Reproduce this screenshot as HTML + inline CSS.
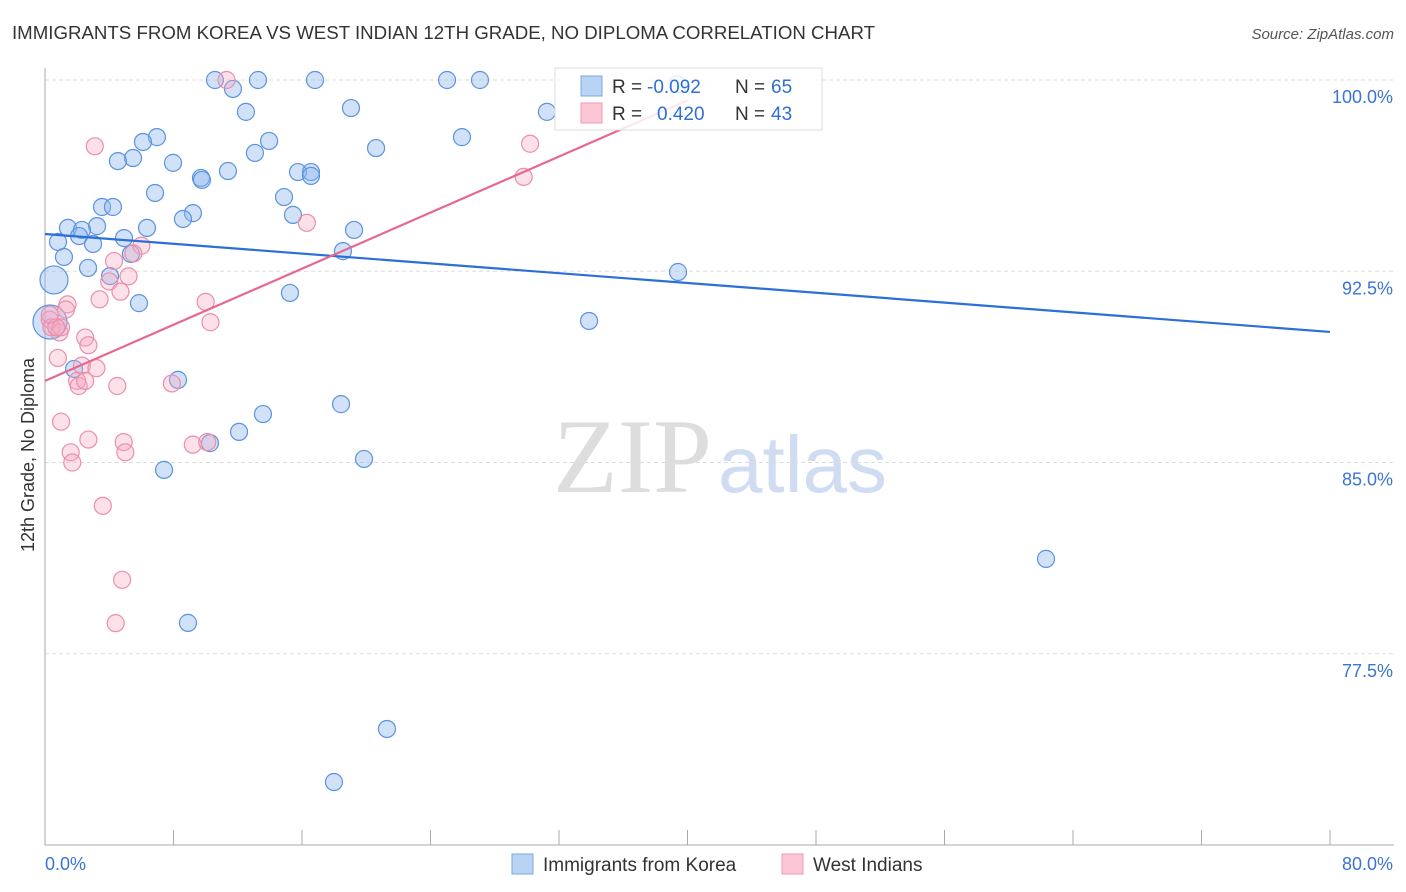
<!DOCTYPE html>
<html><head><meta charset="utf-8"><style>
body{margin:0;background:#fff;font-family:"Liberation Sans",sans-serif}
svg{display:block}
</style></head><body>
<svg id="c" width="1406" height="892" xmlns="http://www.w3.org/2000/svg">
<text x="12" y="39" font-size="18" fill="#333" textLength="863" lengthAdjust="spacingAndGlyphs">IMMIGRANTS FROM KOREA VS WEST INDIAN 12TH GRADE, NO DIPLOMA CORRELATION CHART</text>
<text x="1394" y="39" font-size="15" fill="#555" font-style="italic" text-anchor="end">Source: ZipAtlas.com</text>
<text x="34" y="455" font-size="18" fill="#333" text-anchor="middle" transform="rotate(-90 34 455)">12th Grade, No Diploma</text>
<text x="553" y="492" font-size="106" fill="#ddd" font-family="Liberation Serif,serif">ZIP</text>
<text x="718" y="492" font-size="80" fill="#cfdcf2">atlas</text>
<g id="grid"></g><g id="pts"></g><g id="lines"></g>
<g>
<rect x="555" y="68" width="267" height="62" fill="#fff" fill-opacity="0.85" stroke="#ddd"/>
<rect x="581" y="76" width="21" height="20" fill="#b9d3f5" stroke="#7aa7e6"/>
<rect x="581" y="103" width="21" height="20" fill="#fbc7d6" stroke="#f09ab4"/>
<text x="612" y="93" font-size="19" fill="#333">R =</text><text x="647" y="93" font-size="19" fill="#2f6fd3">-0.092</text>
<text x="735" y="93" font-size="19" fill="#333">N =</text><text x="771" y="93" font-size="19" fill="#2f6fd3">65</text>
<text x="612" y="120" font-size="19" fill="#333">R =</text><text x="657" y="120" font-size="19" fill="#2f6fd3">0.420</text>
<text x="735" y="120" font-size="19" fill="#333">N =</text><text x="771" y="120" font-size="19" fill="#2f6fd3">43</text>
</g>
<g>
<rect x="512" y="854" width="21" height="20" fill="#b9d3f5" stroke="#7aa7e6"/>
<text x="543" y="871" font-size="19" fill="#333">Immigrants from Korea</text>
<rect x="782" y="854" width="21" height="20" fill="#fbc7d6" stroke="#f09ab4"/>
<text x="813" y="871" font-size="19" fill="#333">West Indians</text>
</g>
</svg>
<script>
const yTicks=[100,92.5,85,77.5];
const yTickLabels=["100.0%","92.5%","85.0%","77.5%"];
const xTickLabels=["0.0%","80.0%"];
const blueX=[10.58,13.26,16.81,25.03,27.08,11.70,19.05,12.51,31.25,6.97,13.95,6.10,20.61,25.96,13.07,5.48,4.54,7.97,11.39,15.75,16.56,16.56,9.71,9.77,6.85,14.88,3.55,4.23,9.21,8.59,15.44,6.35,19.24,1.43,3.24,2.30,2.12,0.81,2.99,4.92,5.35,1.18,18.55,39.41,2.68,4.05,0.56,5.85,15.25,33.87,0.31,1.81,8.28,18.43,13.57,12.08,10.27,7.41,19.86,62.32,8.90,21.29,17.99,39.35];
const blueY=[100,100,100,100,100,99.65,98.90,98.75,98.75,97.76,97.61,97.57,97.33,97.76,97.14,96.94,96.82,96.75,96.43,96.39,96.39,96.24,96.16,96.08,95.57,95.41,95.02,95.02,94.78,94.55,94.71,94.20,94.12,94.20,94.27,94.12,93.88,93.65,93.57,93.80,93.18,93.06,93.29,92.47,92.63,92.31,92.16,91.25,91.65,90.55,90.51,88.67,88.24,87.29,86.90,86.20,85.76,84.71,85.14,81.22,78.71,74.55,72.47,99.84];
const pinkX=[11.3,3.1,30.2,29.8,16.3,6.0,5.5,4.3,5.2,4.0,4.7,3.4,10.0,1.4,1.3,10.3,0.3,0.4,0.9,1.0,2.5,2.7,0.8,2.3,3.2,2.0,2.1,2.5,4.5,7.9,1.0,2.7,4.9,5.0,1.6,1.7,9.2,10.1,3.6,4.8,4.4,0.7,0.3];
const pinkY=[100,97.4,97.5,96.2,94.4,93.5,93.2,92.9,92.3,92.1,91.7,91.4,91.3,91.2,91.0,90.5,90.6,90.3,90.1,90.3,89.9,89.6,89.1,88.8,88.7,88.2,88.0,88.2,88.0,88.1,86.6,85.9,85.8,85.4,85.4,85.0,85.7,85.8,83.3,80.4,78.7,90.3,90.8];
const blueR=[];
blueY.forEach((v,i)=>{blueR.push(i==46?14:(i==50?17:8.5))});
const blueTrend=[93.96,90.12];
const pinkTrend=[88.2,99.2,40];
const X=v=>45+v/80*1285, Y=v=>80+(100-v)*25.5;
const NS="http://www.w3.org/2000/svg";
function mk(tag,a,parent){const e=document.createElementNS(NS,tag);for(const k in a)e.setAttribute(k,a[k]);document.getElementById(parent).appendChild(e);return e;}
yTicks.forEach((t,i)=>{
 let l=mk('line',{x1:45,x2:1394,y1:Y(t),y2:Y(t),stroke:'#ddd','stroke-dasharray':'4 3'},'grid');
 
 
 let tx=mk('text',{x:1393,y:Y(t)+23,'font-size':18,fill:'#3a74d4','text-anchor':'end'},'grid');tx.textContent=yTickLabels[i];
 
 
});
let ax=mk('line',{x1:45,x2:45,y1:68,y2:845,stroke:'#aaa'},'grid');


let bx=mk('line',{x1:45,x2:1394,y1:845,y2:845,stroke:'#aaa'},'grid');


for(let i=0;i<=10;i++){let t=mk('line',{x1:X(i*8),x2:X(i*8),y1:830,y2:845,stroke:'#aaa'},'grid');
 
 }
[[0,'start',45],[80,'end',1393]].forEach((d,i)=>{let t=mk('text',{x:d[2],y:870,'font-size':18,fill:'#3a74d4','text-anchor':d[1]},'grid');t.textContent=xTickLabels[i];
 
 });
blueX.forEach((x,i)=>{let c=mk('circle',{cx:X(x),cy:Y(blueY[i]),r:blueR[i],fill:'rgba(140,182,238,0.4)',stroke:'#5b93e0','stroke-width':1.2},'pts');
 
 });
pinkX.forEach((x,i)=>{let c=mk('circle',{cx:X(x),cy:Y(pinkY[i]),r:8.5,fill:'rgba(246,170,192,0.35)',stroke:'#ec8eab','stroke-width':1.2},'pts');
 
 });
let bl=mk('line',{x1:X(0),y1:Y(blueTrend[0]),x2:X(80),y2:Y(blueTrend[1]),stroke:'#2c6fd6','stroke-width':2.2},'lines');


let pl=mk('line',{x1:X(0),y1:Y(pinkTrend[0]),x2:X(pinkTrend[2]),y2:Y(pinkTrend[1]),stroke:'#e7678f','stroke-width':2.2},'lines');


</script>
</body></html>
